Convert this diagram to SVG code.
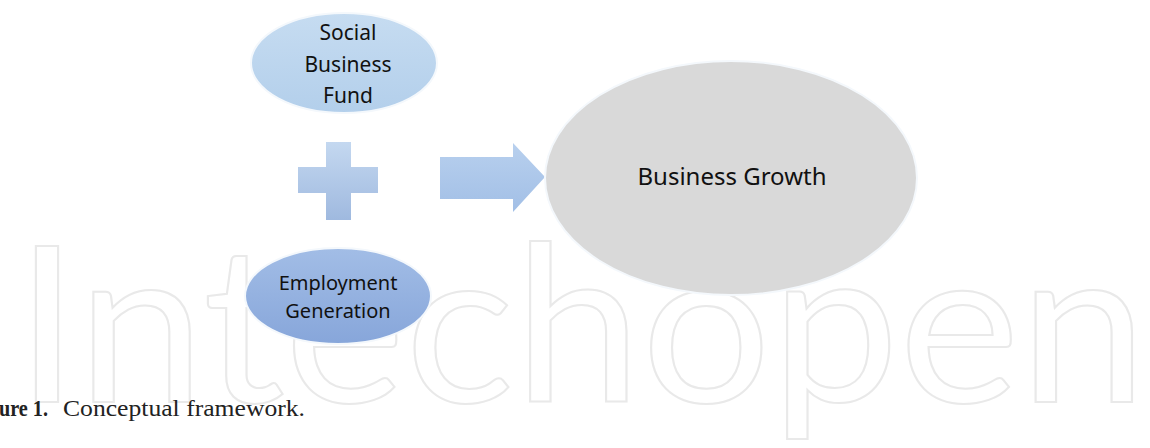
<svg xmlns="http://www.w3.org/2000/svg" width="1150" height="448" viewBox="0 0 1150 448">
<defs>
<linearGradient id="gLight" x1="0" y1="0" x2="0" y2="1">
<stop offset="0" stop-color="#c6dcf1"/>
<stop offset="1" stop-color="#b3cfeb"/>
</linearGradient>
<linearGradient id="gMid" x1="0" y1="0" x2="0" y2="1">
<stop offset="0" stop-color="#a2bde6"/>
<stop offset="1" stop-color="#87a6da"/>
</linearGradient>
<linearGradient id="gPlus" x1="0" y1="0" x2="0" y2="1">
<stop offset="0" stop-color="#c4d8f0"/>
<stop offset="1" stop-color="#9fb9df"/>
</linearGradient>
<linearGradient id="gArrow" x1="0" y1="0" x2="0" y2="1">
<stop offset="0" stop-color="#b8d0ee"/>
<stop offset="1" stop-color="#a2bfe6"/>
</linearGradient>
</defs>
<style>
.wm{font-family:Lato,"Open Sans",sans-serif;font-weight:400;font-size:218px;fill:none;stroke:#e9e9e9;stroke-width:2}
.lbl{font-family:"Noto Sans","DejaVu Sans",sans-serif;fill:#111;text-anchor:middle}
.cap{font-family:"Liberation Serif",serif;font-size:23px;fill:#222}
.node{stroke:#f4f8fc;stroke-width:2}
</style>
<rect width="1150" height="448" fill="#ffffff"/>
<text class="wm" x="15" y="402" textLength="1132" lengthAdjust="spacingAndGlyphs">Intechopen</text>

<g id="node-social-business-fund">
<ellipse class="node" cx="344" cy="63" rx="93" ry="50" fill="url(#gLight)"/>
<text class="lbl" x="348" y="40" font-size="21">Social</text>
<text class="lbl" x="348" y="72" font-size="21">Business</text>
<text class="lbl" x="348" y="103" font-size="21">Fund</text>
</g>

<g id="node-plus">
<path d="M326 142 H351 V167 H378 V193 H351 V220 H326 V193 H298 V167 H326 Z" fill="url(#gPlus)"/>
</g>

<g id="node-employment-generation">
<ellipse class="node" cx="338" cy="296" rx="93" ry="48" fill="url(#gMid)"/>
<text class="lbl" x="338" y="290" font-size="20">Employment</text>
<text class="lbl" x="338" y="318" font-size="20">Generation</text>
</g>

<g id="connectors">
<path d="M440 157 H513 V143 L545 177 L513 212 V199 H440 Z" fill="url(#gArrow)"/>
</g>

<g id="node-business-growth">
<ellipse class="node" cx="731" cy="178" rx="186" ry="117" fill="#d9d9d9"/>
<text class="lbl" x="732" y="185" font-size="24">Business Growth</text>
</g>

<g id="caption">
<text class="cap" x="-1" y="416" font-weight="bold" textLength="49" lengthAdjust="spacingAndGlyphs">ure 1.</text>
<text class="cap" x="63" y="416" textLength="242" lengthAdjust="spacingAndGlyphs">Conceptual framework.</text>
</g>
</svg>
